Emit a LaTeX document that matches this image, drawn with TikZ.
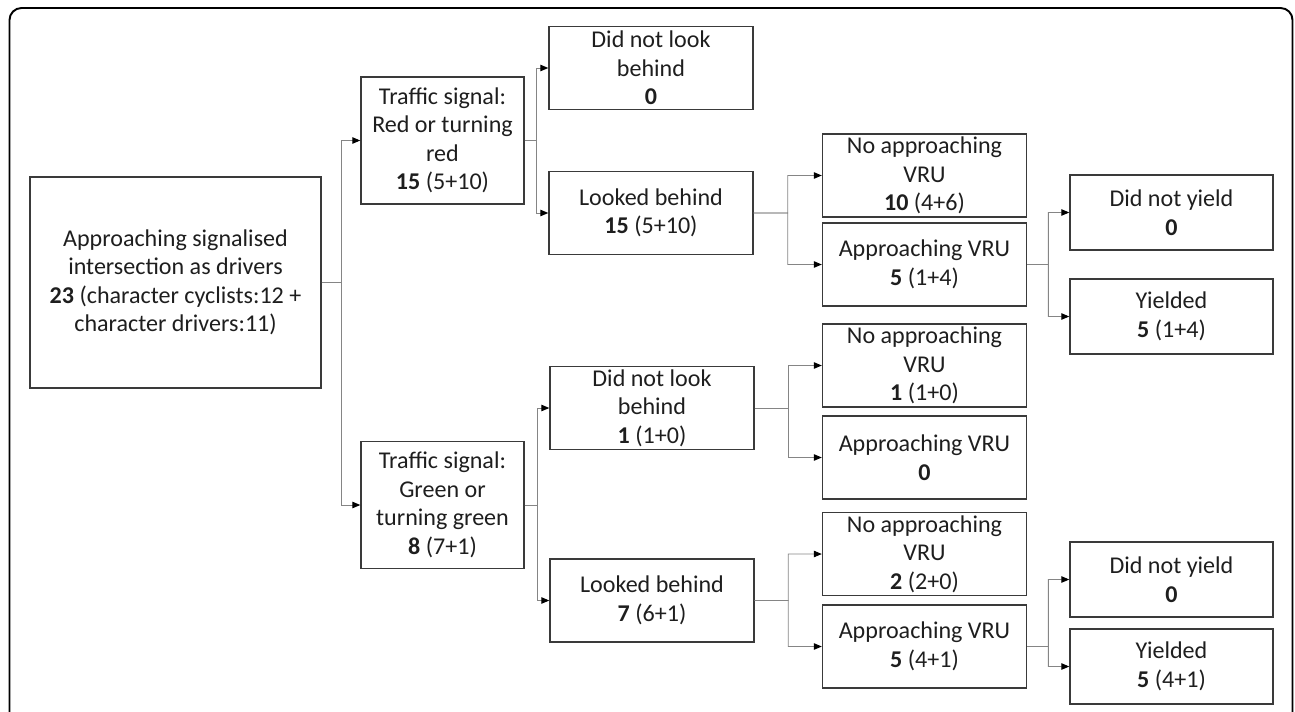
\documentclass[tikz,border=0pt]{standalone}
\usepackage{fontspec}
\setmainfont{Carlito}
\usetikzlibrary{arrows.meta,calc}
\definecolor{boxline}{HTML}{3A3A3A}
\definecolor{linkline}{HTML}{858585}
\definecolor{textgray}{HTML}{1E1E1E}
\begin{document}
\begin{tikzpicture}[
    box/.style = { draw=boxline, line width=0.8pt, align=center, inner sep=0pt,
                   text=textgray, font=\fontsize{13.7}{16.2}\selectfont,
                   minimum width=4.08cm, minimum height=1.66cm },
    rootbox/.style = { box, minimum width=5.82cm, minimum height=4.22cm },
    signalbox/.style = { box, minimum width=3.26cm, minimum height=2.54cm },
    yieldbox/.style = { box, minimum width=4.06cm, minimum height=1.5cm },
    link/.style = { draw=linkline, line width=0.55pt,
                    -{Triangle[length=1.6mm,width=1.3mm,color=black]} }
    ]
\useasboundingbox (0,0) rectangle (25.9,14.22);
\draw[line width=1.1pt, rounded corners=0.24cm] (0.19,-0.2) |- (25.85,14.06) -- (25.85,-0.2);
%
\node[rootbox] (AS) at (3.51,8.57) {Approaching signalised\\intersection as drivers\\\textbf{23} (character cyclists:12 +\\character drivers:11)};
\node[signalbox] (RED) at (8.85,11.41) {Traffic signal:\\Red or turning\\red\\\textbf{15} (5+10)};
\node[signalbox] (GRN) at (8.85,4.12) {Traffic signal:\\Green or\\turning green\\\textbf{8} (7+1)};
\node[box] (RDNL) at (13.02,12.86) {Did not look\\behind\\\textbf{0}};
\node[box] (RLB) at (13.02,9.96) {Looked behind\\\textbf{15} (5+10)};
\node[box] (GDNL) at (13.04,6.06) {Did not look\\behind\\\textbf{1} (1+0)};
\node[box] (GLB) at (13.04,2.21) {Looked behind\\\textbf{7} (6+1)};
\node[box] (RNAV) at (18.49,10.71) {No approaching\\VRU\\\textbf{10} (4+6)};
\node[box] (RAV) at (18.49,8.93) {Approaching VRU\\\textbf{5} (1+4)};
\node[box] (GNAV) at (18.49,6.91) {No approaching\\VRU\\\textbf{1} (1+0)};
\node[box] (GAV) at (18.49,5.07) {Approaching VRU\\\textbf{0}};
\node[box] (LNAV) at (18.49,3.14) {No approaching\\VRU\\\textbf{2} (2+0)};
\node[box] (LAV) at (18.49,1.29) {Approaching VRU\\\textbf{5} (4+1)};
\node[yieldbox] (RDNY) at (23.43,9.97) {Did not yield\\\textbf{0}};
\node[yieldbox] (RY) at (23.43,7.89) {Yielded\\\textbf{5} (1+4)};
\node[yieldbox] (LDNY) at (23.43,2.63) {Did not yield\\\textbf{0}};
\node[yieldbox] (LY) at (23.43,0.89) {Yielded\\\textbf{5} (4+1)};
%
\foreach \Source/\Target in {%
        AS/RED, AS/GRN,
        RED/RDNL, RED/RLB,
        GRN/GDNL, GRN/GLB,
        RLB/RNAV, RLB/RAV,
        GDNL/GNAV, GDNL/GAV,
        GLB/LNAV, GLB/LAV,
        RAV/RDNY, RAV/RY,
        LAV/LDNY, LAV/LY%
    }
\draw[link] (\Source.east) -- ($(\Source.east)!.5!(\Source.east -| \Target.west)$) |- (\Target.west);
\end{tikzpicture}
\end{document}
